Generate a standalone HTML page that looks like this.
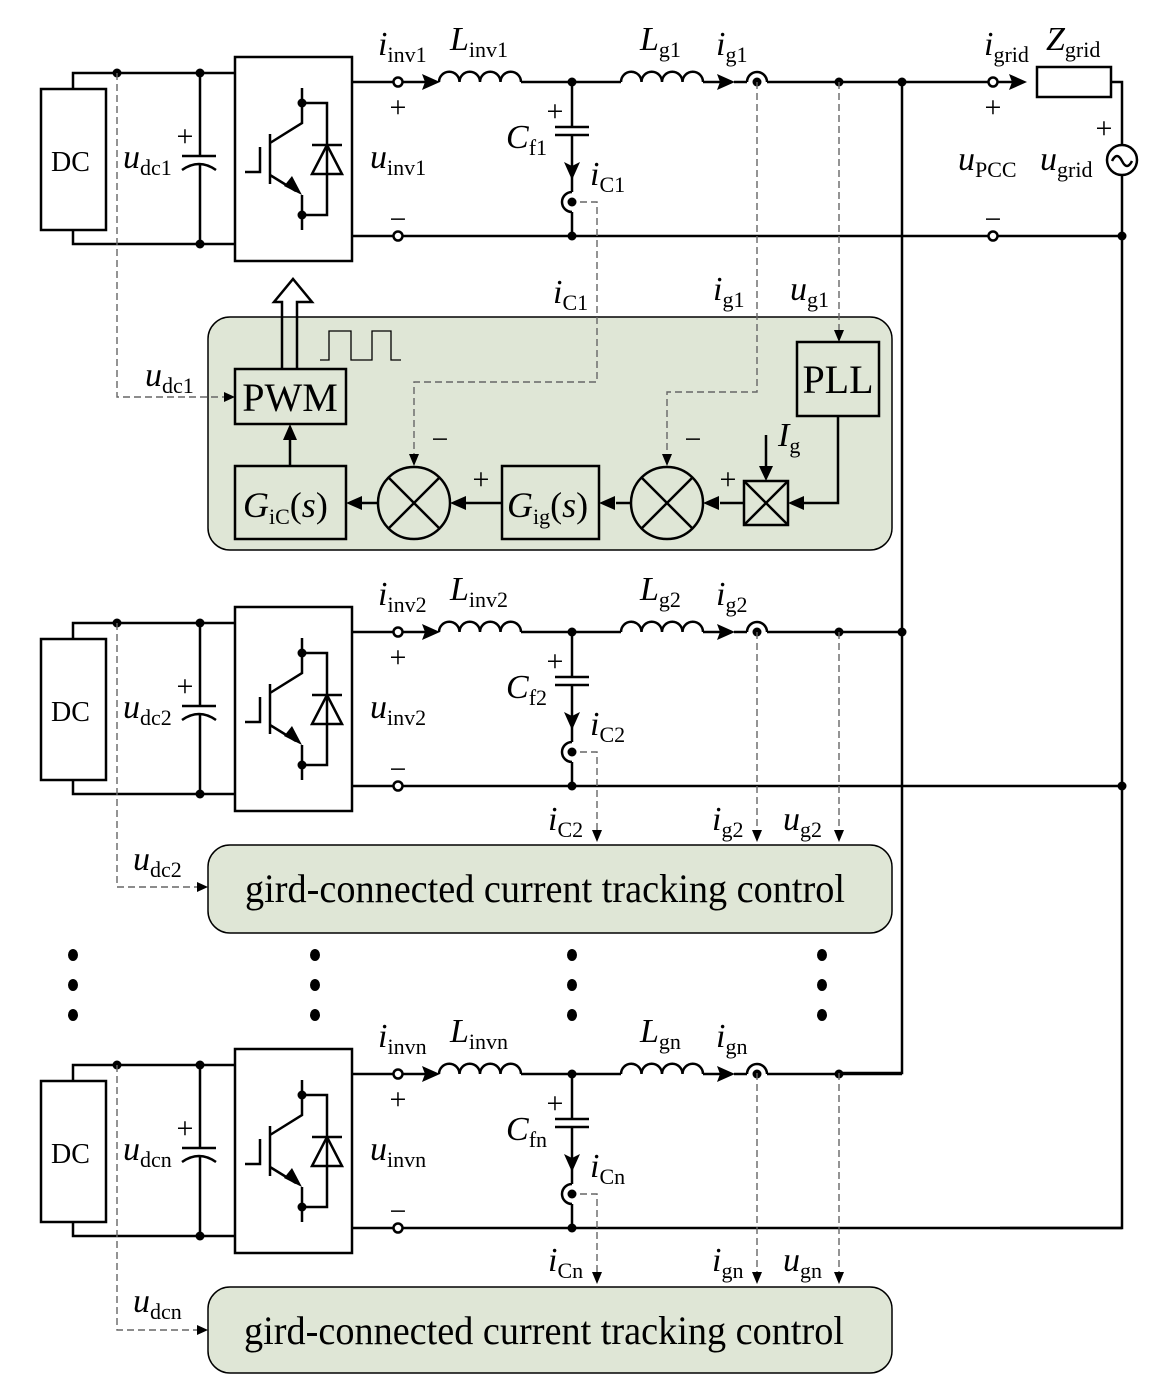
<!DOCTYPE html>
<html><head><meta charset="utf-8"><style>
html,body{margin:0;padding:0;background:#fff}
svg{display:block}
text{font-family:"Liberation Serif",serif;fill:#000}
.v{font-style:italic;font-size:34px}
.s{font-size:22px}
.pm{font-size:30px;text-anchor:middle}
</style></head><body>
<svg width="1159" height="1394" viewBox="0 0 1159 1394" xmlns="http://www.w3.org/2000/svg">
<defs>
<g id="row" fill="none" stroke="#000" stroke-width="2.5">
  <rect x="41" y="89" width="65" height="141"/>
  <path d="M73,89 V73 H235 M73,230 V244 H235"/>
  <path d="M200,73 V156 M182,156 H216 M182,170 Q199,158 216,170 M200,164 V244"/>
  <rect x="235" y="57" width="117" height="204"/>
  <path d="M302,88 V123 L270,143 M270,134 V184 M245,172 H260 V147 M270,175 L296,191 M302,195 V230"/>
  <path d="M302,103 H327 V215 H302 M312,145 H342"/>
  <polygon points="312,174 342,174 327,145" fill="none"/>
  <path d="M352,82 H394 M402,82 H425 M521,82 H621 M703,82 H722 M734,82 H747 M767,82 H902"/>
  <path d="M439,82 a10.25,10.25 0 0 1 20.5,0 a10.25,10.25 0 0 1 20.5,0 a10.25,10.25 0 0 1 20.5,0 a10.25,10.25 0 0 1 20.5,0"/>
  <path d="M621,82 a10.25,10.25 0 0 1 20.5,0 a10.25,10.25 0 0 1 20.5,0 a10.25,10.25 0 0 1 20.5,0 a10.25,10.25 0 0 1 20.5,0"/>
  <path d="M747,82 A10,10 0 0 1 767,82"/>
  <path d="M352,236 H394 M402,236 H1122"/>
  <circle cx="398" cy="82" r="4.5" fill="#fff"/>
  <circle cx="398" cy="236" r="4.5" fill="#fff"/>
  <path d="M572,82 V127 M555,127 H589 M555,135 H589 M572,135 V170 M572,177 V192 M572,192 A10,10 0 0 0 572,212 M572,212 V236"/>
  <g fill="#000" stroke="none">
    <polygon points="440,82 422,74 425,82 422,90"/>
    <polygon points="735,82 717,74 720,82 717,90"/>
    <polygon points="572,180 564,162 572,166 580,162"/>
    <polygon points="302,195 284,186 292,176"/>
    <circle cx="117" cy="73" r="4.5"/><circle cx="200" cy="73" r="4.5"/><circle cx="200" cy="244" r="4.5"/>
    <circle cx="302" cy="103" r="4.5"/><circle cx="302" cy="215" r="4.5"/>
    <circle cx="572" cy="82" r="4.5"/><circle cx="572" cy="236" r="4.5"/><circle cx="572" cy="202" r="4.5"/>
    <circle cx="757" cy="82" r="4.5"/><circle cx="839" cy="82" r="4.5"/>
  </g>
</g>
</defs>

<g fill="none" stroke="#000" stroke-width="2.5">
  <path d="M902,82 V1073 H839"/>
  <path d="M902,82 H989 M997,82 H1012 M1111,82 H1122 V145 M1122,175 V1228 H1000"/>
  <rect x="1037" y="67" width="74" height="30"/>
  <circle cx="1122" cy="160" r="15"/>
  <path d="M1112,161 q5,-10 10,0 q5,10 10,0"/>
</g>
<use href="#row"/>
<use href="#row" transform="translate(0,550)"/>
<use href="#row" transform="translate(0,992)"/>
<g fill="none" stroke="#000" stroke-width="2.5">
  <circle cx="993" cy="82" r="4.5" fill="#fff"/>
  <circle cx="993" cy="236" r="4.5" fill="#fff"/>
</g>
<g fill="#000">
  <polygon points="1027,82 1009,74 1012,82 1009,90"/>
  <circle cx="902" cy="82" r="4.5"/><circle cx="1122" cy="236" r="4.5"/>
  <circle cx="902" cy="632" r="4.5"/><circle cx="1122" cy="786" r="4.5"/>
</g>

<rect x="208" y="317" width="684" height="233" rx="22" fill="#dfe6d6" stroke="#000" stroke-width="1.5"/>
<g fill="none" stroke="#000" stroke-width="2.5">
  <rect x="235" y="369" width="111" height="55"/>
  <rect x="235" y="466" width="111" height="73"/>
  <rect x="502" y="466" width="97" height="73"/>
  <rect x="797" y="342" width="82" height="74"/>
  <rect x="744" y="481" width="44" height="44"/>
  <path d="M744,481 L788,525 M788,481 L744,525"/>
  <circle cx="414" cy="503" r="36"/>
  <path d="M388.5,477.5 L439.5,528.5 M439.5,477.5 L388.5,528.5"/>
  <circle cx="667" cy="503" r="36"/>
  <path d="M641.5,477.5 L692.5,528.5 M692.5,477.5 L641.5,528.5"/>
  <path d="M290,466 V438 M378,503 H362 M502,503 H464 M631,503 H616 M744,503 H720 M838,416 V503 H802 M766,435 V468"/>
  <path d="M282,369 V302 H274 L293,279 L312,302 H297 V369"/>
</g>
<path d="M320,360 H329 V331 H351 V360 H372 V331 H391 V360 H401" fill="none" stroke="#000" stroke-width="1.3"/>
<g fill="#000">
  <polygon points="290,424 283,440 297,440"/>
  <polygon points="346,503 362,496 362,510"/>
  <polygon points="450,503 466,496 466,510"/>
  <polygon points="599,503 615,496 615,510"/>
  <polygon points="703,503 719,496 719,510"/>
  <polygon points="788,503 804,496 804,510"/>
  <polygon points="766,481 759,466 773,466"/>
</g>

<g fill="none" stroke="#666" stroke-width="1.4" stroke-dasharray="7,4">
  <path d="M117,73 V397 H226"/>
  <path d="M580,202 H597 V382 H414 V457"/>
  <path d="M757,82 V392 H667 V457"/>
  <path d="M839,82 V333"/>
  <path d="M117,623 V887 H198"/>
  <path d="M580,752 H597 V832"/>
  <path d="M757,632 V832"/>
  <path d="M839,632 V832"/>
  <path d="M117,1065 V1330 H198"/>
  <path d="M580,1194 H597 V1274"/>
  <path d="M757,1073 V1274"/>
  <path d="M839,1073 V1274"/>
</g>
<g fill="#000">
  <polygon points="235,397 224,392 224,402"/>
  <polygon points="414,466 409,454 419,454"/>
  <polygon points="667,466 662,454 672,454"/>
  <polygon points="839,342 834,330 844,330"/>
  <polygon points="208,887 197,882 197,892"/>
  <polygon points="597,842 592,830 602,830"/>
  <polygon points="757,842 752,830 762,830"/>
  <polygon points="839,842 834,830 844,830"/>
  <polygon points="208,1330 197,1325 197,1335"/>
  <polygon points="597,1284 592,1272 602,1272"/>
  <polygon points="757,1284 752,1272 762,1272"/>
  <polygon points="839,1284 834,1272 844,1272"/>
</g>

<rect x="208" y="845" width="684" height="88" rx="22" fill="#dfe6d6" stroke="#000" stroke-width="1.5"/>
<rect x="208" y="1287" width="684" height="86" rx="22" fill="#dfe6d6" stroke="#000" stroke-width="1.5"/>
<text x="245" y="902" font-size="40" textLength="600" lengthAdjust="spacingAndGlyphs">gird-connected current tracking control</text>
<text x="244" y="1344" font-size="40" textLength="600" lengthAdjust="spacingAndGlyphs">gird-connected current tracking control</text>

<g fill="#000">
  <ellipse cx="73" cy="955" rx="5" ry="6"/><ellipse cx="73" cy="985" rx="5" ry="6"/><ellipse cx="73" cy="1015" rx="5" ry="6"/>
  <ellipse cx="315" cy="955" rx="5" ry="6"/><ellipse cx="315" cy="985" rx="5" ry="6"/><ellipse cx="315" cy="1015" rx="5" ry="6"/>
  <ellipse cx="572" cy="955" rx="5" ry="6"/><ellipse cx="572" cy="985" rx="5" ry="6"/><ellipse cx="572" cy="1015" rx="5" ry="6"/>
  <ellipse cx="822" cy="955" rx="5" ry="6"/><ellipse cx="822" cy="985" rx="5" ry="6"/><ellipse cx="822" cy="1015" rx="5" ry="6"/>
</g>

<g font-size="28">
<text x="51" y="171">DC</text>
<text x="51" y="721">DC</text>
<text x="51" y="1163">DC</text>
</g>
<text x="290" y="411" font-size="40" text-anchor="middle">PWM</text>
<text x="838" y="393" font-size="40" text-anchor="middle">PLL</text>
<text x="243" y="517" font-size="36"><tspan font-style="italic">G</tspan><tspan font-size="22" dy="7">iC</tspan><tspan dy="-7">(</tspan><tspan font-style="italic">s</tspan>)</text>
<text x="507" y="517" font-size="36"><tspan font-style="italic">G</tspan><tspan font-size="22" dy="7">ig</tspan><tspan dy="-7">(</tspan><tspan font-style="italic">s</tspan>)</text>
<g class="pm">
<text x="440" y="449">−</text><text x="693" y="449">−</text>
<text x="481" y="489">+</text><text x="728" y="489">+</text>
<text x="993" y="117">+</text><text x="993" y="229">−</text>
<text x="1104" y="138">+</text>
</g>
<text x="778" y="446" class="v">I<tspan class="s" font-style="normal" dy="7">g</tspan></text>
<text x="958" y="170" class="v">u<tspan class="s" font-style="normal" dy="7">PCC</tspan></text>
<text x="1040" y="170" class="v">u<tspan class="s" font-style="normal" dy="7">grid</tspan></text>
<text x="984" y="55" class="v">i<tspan class="s" font-style="normal" dy="7">grid</tspan></text>
<text x="1046" y="50" class="v">Z<tspan class="s" font-style="normal" dy="7">grid</tspan></text>
<text x="553" y="303" class="v">i<tspan class="s" font-style="normal" dy="7">C1</tspan></text>
<text x="713" y="300" class="v">i<tspan class="s" font-style="normal" dy="7">g1</tspan></text>
<text x="790" y="300" class="v">u<tspan class="s" font-style="normal" dy="7">g1</tspan></text>
<text x="145" y="386" class="v">u<tspan class="s" font-style="normal" dy="7">dc1</tspan></text>
<text x="548" y="830" class="v">i<tspan class="s" font-style="normal" dy="7">C2</tspan></text>
<text x="712" y="830" class="v">i<tspan class="s" font-style="normal" dy="7">g2</tspan></text>
<text x="783" y="830" class="v">u<tspan class="s" font-style="normal" dy="7">g2</tspan></text>
<text x="133" y="870" class="v">u<tspan class="s" font-style="normal" dy="7">dc2</tspan></text>
<text x="548" y="1271" class="v">i<tspan class="s" font-style="normal" dy="7">Cn</tspan></text>
<text x="712" y="1271" class="v">i<tspan class="s" font-style="normal" dy="7">gn</tspan></text>
<text x="783" y="1271" class="v">u<tspan class="s" font-style="normal" dy="7">gn</tspan></text>
<text x="133" y="1312" class="v">u<tspan class="s" font-style="normal" dy="7">dcn</tspan></text>

<g>
<text x="378" y="55" class="v">i<tspan class="s" font-style="normal" dy="7">inv1</tspan></text>
<text x="450" y="50" class="v">L<tspan class="s" font-style="normal" dy="7">inv1</tspan></text>
<text x="640" y="50" class="v">L<tspan class="s" font-style="normal" dy="7">g1</tspan></text>
<text x="716" y="55" class="v">i<tspan class="s" font-style="normal" dy="7">g1</tspan></text>
<text x="370" y="168" class="v">u<tspan class="s" font-style="normal" dy="7">inv1</tspan></text>
<text x="123" y="168" class="v">u<tspan class="s" font-style="normal" dy="7">dc1</tspan></text>
<text x="506" y="148" class="v">C<tspan class="s" font-style="normal" dy="7">f1</tspan></text>
<text x="590" y="185" class="v">i<tspan class="s" font-style="normal" dy="7">C1</tspan></text>
<text x="398" y="117" class="pm">+</text><text x="398" y="229" class="pm">−</text>
<text x="185" y="146" class="pm">+</text><text x="555" y="121" class="pm">+</text>
</g>
<g transform="translate(0,550)">
<text x="378" y="55" class="v">i<tspan class="s" font-style="normal" dy="7">inv2</tspan></text>
<text x="450" y="50" class="v">L<tspan class="s" font-style="normal" dy="7">inv2</tspan></text>
<text x="640" y="50" class="v">L<tspan class="s" font-style="normal" dy="7">g2</tspan></text>
<text x="716" y="55" class="v">i<tspan class="s" font-style="normal" dy="7">g2</tspan></text>
<text x="370" y="168" class="v">u<tspan class="s" font-style="normal" dy="7">inv2</tspan></text>
<text x="123" y="168" class="v">u<tspan class="s" font-style="normal" dy="7">dc2</tspan></text>
<text x="506" y="148" class="v">C<tspan class="s" font-style="normal" dy="7">f2</tspan></text>
<text x="590" y="185" class="v">i<tspan class="s" font-style="normal" dy="7">C2</tspan></text>
<text x="398" y="117" class="pm">+</text><text x="398" y="229" class="pm">−</text>
<text x="185" y="146" class="pm">+</text><text x="555" y="121" class="pm">+</text>
</g>
<g transform="translate(0,992)">
<text x="378" y="55" class="v">i<tspan class="s" font-style="normal" dy="7">invn</tspan></text>
<text x="450" y="50" class="v">L<tspan class="s" font-style="normal" dy="7">invn</tspan></text>
<text x="640" y="50" class="v">L<tspan class="s" font-style="normal" dy="7">gn</tspan></text>
<text x="716" y="55" class="v">i<tspan class="s" font-style="normal" dy="7">gn</tspan></text>
<text x="370" y="168" class="v">u<tspan class="s" font-style="normal" dy="7">invn</tspan></text>
<text x="123" y="168" class="v">u<tspan class="s" font-style="normal" dy="7">dcn</tspan></text>
<text x="506" y="148" class="v">C<tspan class="s" font-style="normal" dy="7">fn</tspan></text>
<text x="590" y="185" class="v">i<tspan class="s" font-style="normal" dy="7">Cn</tspan></text>
<text x="398" y="117" class="pm">+</text><text x="398" y="229" class="pm">−</text>
<text x="185" y="146" class="pm">+</text><text x="555" y="121" class="pm">+</text>
</g>
</svg>
</body></html>
